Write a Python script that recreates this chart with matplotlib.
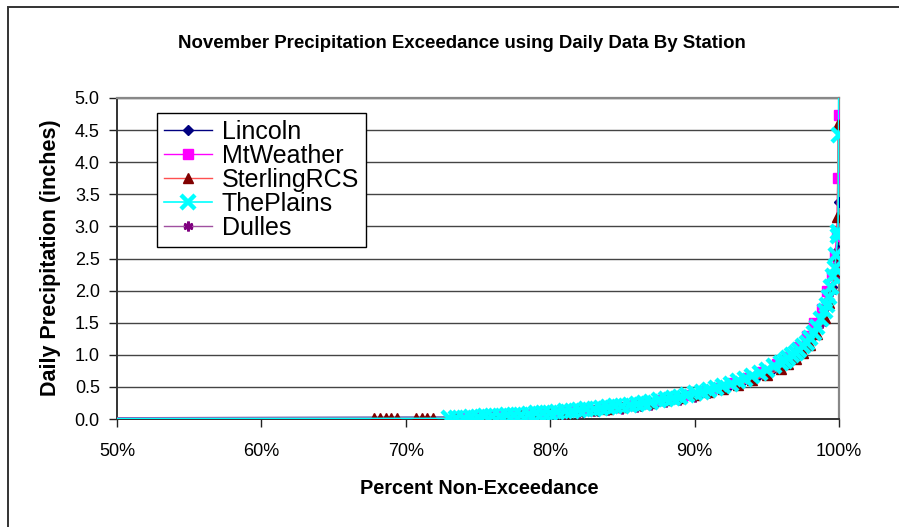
import matplotlib
matplotlib.use("Agg")
import matplotlib.pyplot as plt
from matplotlib.patches import Rectangle
from matplotlib.ticker import FuncFormatter

plt.rcParams['font.family'] = ['Liberation Sans', 'DejaVu Sans']

# ---- data (percent non-exceedance, daily precip in inches) ----
lincoln_pct = [0.0, 77.3, 78.3, 79.3, 80.3, 81.3, 82.3, 83.3, 84.3, 85.3, 86.3, 87.3, 88.3,
               89.3, 90.3, 91.3, 92.3, 93.3, 94.3, 95.3, 96.3, 97.0, 97.7, 98.3, 98.8,
               99.2, 99.5, 99.7, 99.85, 99.93, 99.97]
lincoln_val = [0.0, 0.03, 0.04, 0.06, 0.07, 0.09, 0.11, 0.13, 0.15, 0.18, 0.21, 0.25, 0.29,
               0.33, 0.38, 0.44, 0.50, 0.57, 0.65, 0.75, 0.87, 1.00, 1.15, 1.33, 1.55,
               1.80, 2.05, 2.30, 2.50, 2.63, 3.38]

mtweather_pct = [0.0, 73.7, 74.7, 75.7, 76.7, 77.7, 78.7, 79.7, 80.7, 81.7, 82.7, 83.7, 84.7,
                 85.7, 86.7, 87.7, 88.7, 89.7, 90.7, 91.7, 92.7, 93.7, 94.7, 95.7, 96.5,
                 97.2, 97.8, 98.3, 98.8, 99.2, 99.5, 99.7, 99.85, 99.92, 99.97]
mtweather_val = [0.0, 0.02, 0.03, 0.04, 0.05, 0.06, 0.08, 0.09, 0.11, 0.12, 0.14, 0.17, 0.19,
                 0.22, 0.25, 0.29, 0.33, 0.38, 0.43, 0.49, 0.56, 0.64, 0.73, 0.85, 0.97,
                 1.12, 1.30, 1.50, 1.72, 2.00, 2.25, 2.55, 2.85, 3.75, 4.73]

sterling_pct = [0.0, 67.8, 68.2, 68.6, 69.0, 69.4, 70.7, 71.1, 71.5, 71.9, 73.4, 74.3, 75.2,
                76.1, 77.0, 78.0, 79.0, 80.0, 81.0, 82.0, 83.0, 84.0, 85.0, 86.0, 87.0,
                88.0, 89.0, 90.0, 91.0, 92.0, 93.0, 94.0, 95.0, 96.0, 96.5, 97.0, 97.5,
                98.0, 98.5, 99.0, 99.3, 99.5, 99.7, 99.8, 99.88, 99.94]
sterling_val = [0.0, 0.01, 0.01, 0.01, 0.01, 0.01, 0.01, 0.01, 0.01, 0.01, 0.02, 0.03, 0.03,
                0.04, 0.05, 0.06, 0.08, 0.09, 0.10, 0.12, 0.14, 0.16, 0.19, 0.22, 0.25,
                0.29, 0.33, 0.37, 0.42, 0.47, 0.53, 0.60, 0.68, 0.78, 0.85, 0.93, 1.03,
                1.15, 1.32, 1.58, 1.80, 2.05, 2.30, 2.55, 3.15, 4.60]

plains_pct = [0.0, 73.0, 73.5, 74.0, 74.5, 75.0, 75.5, 76.0, 76.5, 77.0, 77.5, 78.0, 78.5,
              79.0, 79.5, 80.0, 80.5, 81.0, 81.5, 82.0, 82.5, 83.0, 83.5, 84.0, 84.5,
              85.0, 85.5, 86.0, 86.5, 87.0, 87.5, 88.0, 88.5, 89.0, 89.5, 90.0, 90.5,
              91.0, 91.5, 92.0, 92.5, 93.0, 93.5, 94.0, 94.5, 95.0, 95.5, 96.0, 96.25,
              96.5, 96.75, 97.0, 97.25, 97.5, 97.75, 98.0, 98.25, 98.5, 98.75, 99.0,
              99.15, 99.3, 99.45, 99.6, 99.7, 99.8, 99.9, 99.93, 99.97, 99.99]
plains_val = [0.0, 0.01, 0.02, 0.02, 0.03, 0.03, 0.04, 0.05, 0.05, 0.06, 0.07, 0.07, 0.08,
              0.09, 0.10, 0.10, 0.11, 0.12, 0.13, 0.14, 0.15, 0.16, 0.17, 0.18, 0.20,
              0.21, 0.22, 0.24, 0.25, 0.27, 0.29, 0.31, 0.33, 0.35, 0.37, 0.40, 0.42,
              0.45, 0.48, 0.51, 0.55, 0.59, 0.63, 0.67, 0.71, 0.76, 0.82, 0.88, 0.91,
              0.95, 0.99, 1.03, 1.08, 1.13, 1.19, 1.26, 1.34, 1.43, 1.55, 1.68,
              1.78, 1.90, 2.05, 2.22, 2.35, 2.55, 2.85, 2.92, 4.42, 5.30]

dulles_pct = [0.0, 75.0, 76.0, 77.0, 78.0, 79.0, 80.0, 81.0, 82.0, 83.0, 84.0, 85.0, 86.0,
              87.0, 88.0, 89.0, 90.0, 91.0, 92.0, 93.0, 94.0, 95.0, 96.0, 97.0, 97.7,
              98.3, 98.8, 99.2, 99.5, 99.75, 99.9, 99.96]
dulles_val = [0.0, 0.02, 0.03, 0.04, 0.05, 0.06, 0.07, 0.08, 0.10, 0.12, 0.14, 0.16, 0.19,
              0.22, 0.26, 0.30, 0.35, 0.40, 0.46, 0.53, 0.61, 0.70, 0.82, 0.98, 1.12,
              1.30, 1.50, 1.75, 2.00, 2.25, 2.45, 2.60]

W, H = 899, 527
fig = plt.figure(figsize=(W / 100, H / 100), dpi=100)

# outer chart border (only top and left show in the crop)
fig.patches.append(Rectangle((8 / W, -0.2), 1.5, 1.2 - 6.5 / H, transform=fig.transFigure,
                             fill=False, edgecolor='#333333', linewidth=1.4))

ax = fig.add_axes([117 / W, (H - 419) / H, 722 / W, 321 / H])

ax.plot(lincoln_pct, lincoln_val, color='#000080', lw=1, marker='D', ms=5,
        mfc='#000080', mec='#000080', label='Lincoln', zorder=3)
ax.plot(mtweather_pct, mtweather_val, color='#FF00FF', lw=1, marker='s', ms=6.5,
        mfc='#FF00FF', mec='#FF00FF', label='MtWeather', zorder=3)
ax.plot(sterling_pct, sterling_val, color='#FF5050', lw=1, marker='^', ms=7,
        mfc='#800000', mec='#800000', label='SterlingRCS', zorder=4)
ax.plot(dulles_pct, dulles_val, color='#A050A0', lw=1, marker=(6, 2, 0), ms=7, mew=2,
        mfc='#800080', mec='#800080', label='Dulles', zorder=3)
ax.plot(plains_pct, plains_val, color='#00FFFF', lw=1.2, marker='x', ms=10, mew=3.2,
        mfc='#00FFFF', mec='#00FFFF', label='ThePlains', zorder=5)

ax.set_xlim(50, 100)
ax.set_ylim(0, 5)
ax.set_xticks([50, 60, 70, 80, 90, 100])
ax.set_yticks([0, 0.5, 1, 1.5, 2, 2.5, 3, 3.5, 4, 4.5, 5])
ax.xaxis.set_major_formatter(FuncFormatter(lambda v, _: '%d%%' % v))
ax.yaxis.set_major_formatter(FuncFormatter(lambda v, _: '%.1f' % v))
ax.tick_params(axis='x', direction='out', length=6, width=1, color='#222222',
               labelsize=13, pad=11)
ax.tick_params(axis='y', direction='out', length=6, width=1, color='#222222',
               labelsize=13, pad=6.4)
ax.yaxis.grid(True, color='#444444', linewidth=1)
ax.set_axisbelow(True)
for s in ['left', 'bottom']:
    ax.spines[s].set_color('#333333')
    ax.spines[s].set_linewidth(1.4)
for s in ['top', 'right']:
    ax.spines[s].set_color('#888888')
    ax.spines[s].set_linewidth(1.6)

handles, labels = ax.get_legend_handles_labels()
order = [0, 1, 2, 4, 3]
leg = ax.legend([handles[i] for i in order], [labels[i] for i in order],
                loc='upper left', bbox_to_anchor=(157 / W, 1 - 113 / H),
                bbox_transform=fig.transFigure, fontsize=18, frameon=True,
                fancybox=False, edgecolor='black', framealpha=1, labelspacing=0.0,
                handlelength=1.9, handletextpad=0.4, borderpad=0.28, borderaxespad=0)
leg.get_frame().set_linewidth(1)
leg.set_zorder(10)

fig.text(462 / W, 1 - 43 / H, 'November Precipitation Exceedance using Daily Data By Station',
         ha='center', va='center', fontsize=13.4, fontweight='bold')
fig.text(51 / W, 1 - 258 / H, 'Daily Precipitation (inches)', rotation=90,
         ha='center', va='center', fontsize=15.5, fontweight='bold')
fig.text(479 / W, 1 - 488 / H, 'Percent Non-Exceedance',
         ha='center', va='center', fontsize=14.3, fontweight='bold')

fig.savefig('out.png', dpi=100)
